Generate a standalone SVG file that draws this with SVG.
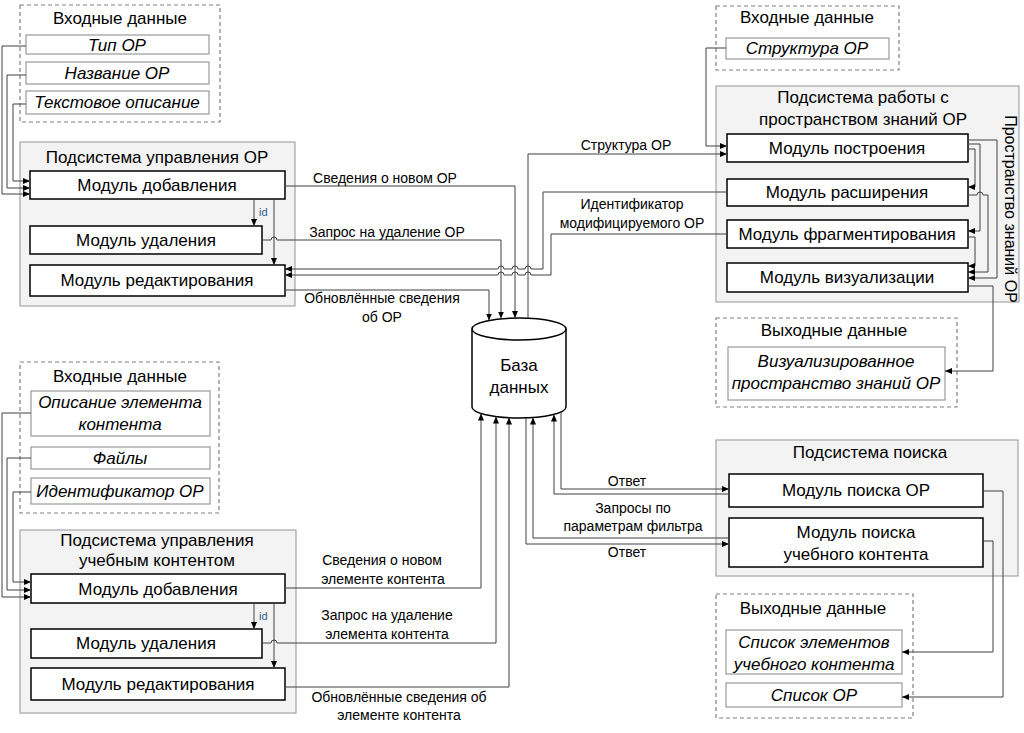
<svg xmlns="http://www.w3.org/2000/svg" width="1024" height="733" viewBox="0 0 1024 733">
<style>
text{font-family:"Liberation Sans",Arial,sans-serif;fill:#000;text-anchor:middle}
.t{font-size:17px}
.it{font-size:17px;font-style:italic}
.lb{font-size:14px}
.id{font-size:11px;fill:#2e5c8a;text-anchor:start}
.vt{font-size:16px}
.sub{fill:#f3f3f3;stroke:#a6a6a6;stroke-width:1.2}
.dash{fill:none;stroke:#808080;stroke-width:1.2;stroke-dasharray:4 3}
.item{fill:#fff;stroke:#999;stroke-width:1.2}
.mod{fill:#fff;stroke:#000;stroke-width:1.5}
.c{fill:none;stroke:#404040;stroke-width:1}
.ca{fill:none;stroke:#404040;stroke-width:1;marker-end:url(#ah)}
.db{fill:#fff;stroke:#000;stroke-width:1.5}
</style>
<defs>
<marker id="ah" markerWidth="7" markerHeight="6" refX="7" refY="3" orient="auto" markerUnits="userSpaceOnUse">
<path d="M0,0 L7,3 L0,6 z" fill="#000"/>
</marker>
</defs>

<!-- Top-left input data -->
<g id="in-or">
<rect class="dash" x="20" y="5" width="200" height="117"/>
<text class="t" x="120" y="24">Входные данные</text>
<rect class="item" x="26" y="35" width="183" height="19"/>
<text class="it" x="117" y="51">Тип ОР</text>
<rect class="item" x="26" y="62" width="183" height="22"/>
<text class="it" x="117" y="79">Название ОР</text>
<rect class="item" x="26" y="91" width="183" height="23"/>
<text class="it" x="117" y="108">Текстовое описание</text>
</g>

<!-- OR management subsystem -->
<g id="sub-or">
<rect class="sub" x="20" y="142" width="275" height="164"/>
<text class="t" x="157" y="163">Подсистема управления ОР</text>
</g>
<g id="or-add"><rect class="mod" x="30" y="171" width="255" height="28"/><text class="t" x="157" y="191">Модуль добавления</text></g>
<g id="or-del"><rect class="mod" x="30" y="226" width="232" height="28"/><text class="t" x="146" y="246">Модуль удаления</text></g>
<g id="or-edit"><rect class="mod" x="30" y="265" width="255" height="31"/><text class="t" x="157" y="286">Модуль редактирования</text></g>

<!-- Top-right input data -->
<g id="in-ks">
<rect class="dash" x="716" y="6" width="183" height="64"/>
<text class="t" x="807" y="23">Входные данные</text>
<rect class="item" x="726" y="38" width="163" height="21"/>
<text class="it" x="807" y="54">Структура ОР</text>
</g>

<!-- Knowledge space subsystem -->
<g id="sub-ks">
<rect class="sub" x="716" y="86" width="303" height="216"/>
<text class="t" x="863" y="103">Подсистема работы с</text>
<text class="t" x="863" y="125">пространством знаний ОР</text>
<text class="vt" transform="translate(1010,209) rotate(90)" x="0" y="5">Пространство знаний ОР</text>
</g>
<g id="ks-build"><rect class="mod" x="727" y="134" width="241" height="28"/><text class="t" x="847" y="154">Модуль построения</text></g>
<g id="ks-ext"><rect class="mod" x="727" y="179" width="241" height="27"/><text class="t" x="847" y="198">Модуль расширения</text></g>
<g id="ks-frag"><rect class="mod" x="727" y="220" width="241" height="28"/><text class="t" x="847" y="240">Модуль фрагментирования</text></g>
<g id="ks-vis"><rect class="mod" x="727" y="263" width="241" height="29"/><text class="t" x="847" y="283">Модуль визуализации</text></g>

<!-- Knowledge space output -->
<g id="out-ks">
<rect class="dash" x="716" y="318" width="241" height="89"/>
<text class="t" x="834" y="336">Выходные данные</text>
<rect class="item" x="728" y="347" width="217" height="53"/>
<text class="it" x="836" y="367">Визуализированное</text>
<text class="it" x="836" y="389">пространство знаний ОР</text>
</g>

<!-- Database -->
<g id="db">
<path class="db" d="M472,329 V407 A47,11 0 0 0 566,407 V329"/>
<ellipse class="db" cx="519" cy="329" rx="47" ry="11"/>
<text class="t" x="519" y="371">База</text>
<text class="t" x="519" y="393">данных</text>
</g>

<!-- Bottom-left input data -->
<g id="in-content">
<rect class="dash" x="20" y="362" width="199" height="151"/>
<text class="t" x="120" y="382">Входные данные</text>
<rect class="item" x="31" y="391" width="179" height="45"/>
<text class="it" x="120" y="408">Описание элемента</text>
<text class="it" x="120" y="430">контента</text>
<rect class="item" x="31" y="447" width="179" height="22"/>
<text class="it" x="120" y="464">Файлы</text>
<rect class="item" x="31" y="478" width="179" height="26"/>
<text class="it" x="120" y="497">Идентификатор ОР</text>
</g>

<!-- Content management subsystem -->
<g id="sub-content">
<rect class="sub" x="20" y="530" width="276" height="183"/>
<text class="t" x="157" y="546">Подсистема управления</text>
<text class="t" x="157" y="566">учебным контентом</text>
</g>
<g id="ct-add"><rect class="mod" x="31" y="574" width="254" height="29"/><text class="t" x="158" y="595">Модуль добавления</text></g>
<g id="ct-del"><rect class="mod" x="31" y="629" width="231" height="29"/><text class="t" x="146" y="649">Модуль удаления</text></g>
<g id="ct-edit"><rect class="mod" x="31" y="668" width="254" height="32"/><text class="t" x="158" y="690">Модуль редактирования</text></g>

<!-- Search subsystem -->
<g id="sub-search">
<rect class="sub" x="716" y="440" width="302" height="136"/>
<text class="t" x="870" y="458">Подсистема поиска</text>
</g>
<g id="s-or"><rect class="mod" x="729" y="474" width="254" height="33"/><text class="t" x="856" y="496">Модуль поиска ОР</text></g>
<g id="s-ct"><rect class="mod" x="729" y="518" width="254" height="49"/><text class="t" x="856" y="538">Модуль поиска</text><text class="t" x="856" y="560">учебного контента</text></g>

<!-- Search output -->
<g id="out-search">
<rect class="dash" x="716" y="594" width="197" height="124"/>
<text class="t" x="813" y="614">Выходные данные</text>
<rect class="item" x="726" y="630" width="176" height="44"/>
<text class="it" x="814" y="648">Список элементов</text>
<text class="it" x="814" y="670">учебного контента</text>
<rect class="item" x="726" y="683" width="176" height="24"/>
<text class="it" x="814" y="701">Список ОР</text>
</g>

<!-- Connectors -->
<g id="connectors">
<!-- top-left inputs -->
<path class="ca" d="M26,46 H2 V194 H30"/>
<path class="ca" d="M26,75 H7 V188 H30"/>
<path class="ca" d="M26,104 H13 V181 H30"/>
<!-- internal OR subsystem -->
<path class="ca" d="M254,199 V226"/>
<path class="ca" d="M274,199 V265"/>
<!-- OR subsystem to DB -->
<path class="ca" d="M285,186 H515 V318"/>
<path class="ca" d="M262,240 H271 A3,3 0 0 1 277,240 H501 V318.5"/>
<path class="ca" d="M285,290 H489 V320.5"/>
<!-- DB to build module -->
<path class="ca" d="M528,318 V154 H727"/>
<!-- input structure to build -->
<path class="ca" d="M726,48 H706 V146 H727"/>
<!-- ext / frag to OR edit -->
<path class="ca" d="M727,192 H543 V269 H531 A3,3 0 0 0 525,269 H518 A3,3 0 0 0 512,269 H504 A3,3 0 0 0 498,269 H285"/>
<path class="ca" d="M727,234 H551 V275 H531 A3,3 0 0 0 525,275 H518 A3,3 0 0 0 512,275 H504 A3,3 0 0 0 498,275 H285"/>
<!-- inside knowledge space -->
<path class="ca" d="M968,140 H997 V278 H968"/>
<path class="ca" d="M968,144 H980 V231 H968"/>
<path class="ca" d="M968,149 H975 V187 H968"/>
<path class="ca" d="M968,195 H977 A3,3 0 0 1 983,195 H988 V272 H968"/>
<path class="ca" d="M968,237 H975 V266 H968"/>
<path class="ca" d="M968,286 H993 V371 H945"/>
<!-- DB and search -->
<path class="ca" d="M561,412 V489 H729"/>
<path class="ca" d="M729,494 H554 V414.5"/>
<path class="ca" d="M729,538 H533 V417.5"/>
<path class="ca" d="M526,418 V544 H729"/>
<!-- search to output -->
<path class="ca" d="M983,491 H1003 V697 H902"/>
<path class="ca" d="M983,541 H993 V652 H902"/>
<!-- bottom-left inputs -->
<path class="ca" d="M31,413 H2 V597 H31"/>
<path class="ca" d="M31,458 H7 V590 H31"/>
<path class="ca" d="M31,492 H13 V582 H31"/>
<!-- internal content subsystem -->
<path class="ca" d="M254,603 V629"/>
<path class="ca" d="M274,603 V668"/>
<!-- content subsystem to DB -->
<path class="ca" d="M285,588 H481 V413.5"/>
<path class="ca" d="M262,643 H271 A3,3 0 0 1 277,643 H496 V416.5"/>
<path class="ca" d="M285,687 H509 V417.5"/>

<!-- labels -->
<text class="id" x="259" y="216">id</text>
<text class="id" x="259" y="620">id</text>
<text class="lb" x="385" y="183">Сведения о новом ОР</text>
<text class="lb" x="387" y="237">Запрос на удаление ОР</text>
<text class="lb" x="382" y="303">Обновлённые сведения</text>
<text class="lb" x="382" y="322">об ОР</text>
<text class="lb" x="626" y="150">Структура ОР</text>
<text class="lb" x="632" y="209">Идентификатор</text>
<text class="lb" x="632" y="228">модифицируемого ОР</text>
<text class="lb" x="627" y="486">Ответ</text>
<text class="lb" x="633" y="513">Запросы по</text>
<text class="lb" x="633" y="531">параметрам фильтра</text>
<text class="lb" x="627" y="557">Ответ</text>
<text class="lb" x="382" y="565">Сведения о новом</text>
<text class="lb" x="383" y="584">элементе контента</text>
<text class="lb" x="387" y="620">Запрос на удаление</text>
<text class="lb" x="387" y="639">элемента контента</text>
<text class="lb" x="399" y="702">Обновлённые сведения об</text>
<text class="lb" x="399" y="720">элементе контента</text>
</g>
</svg>
